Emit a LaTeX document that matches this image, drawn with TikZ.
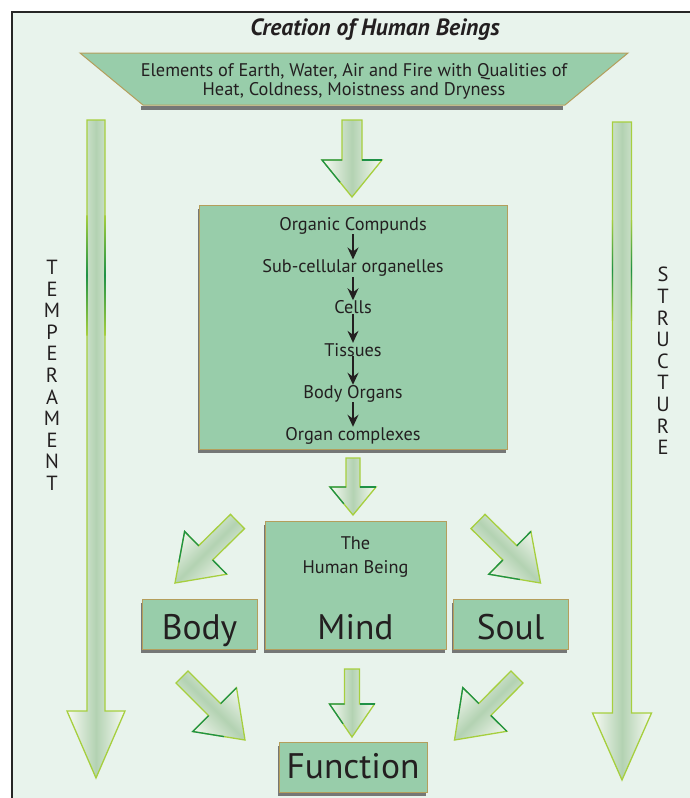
\documentclass[tikz,border=0pt]{standalone}
\usepackage{fontspec}
\setmainfont{PT Sans}
\usetikzlibrary{calc,shadows,arrows.meta}
\definecolor{bgc}{HTML}{E8F3EC}
\definecolor{boxfill}{HTML}{98CDAA}
\definecolor{boxline}{HTML}{B49E5C}
\definecolor{lgreen}{HTML}{A6CF3E}
\definecolor{dgreen}{HTML}{1F9146}
\definecolor{arrmid}{HTML}{B3D2B2}
\definecolor{arredge}{HTML}{F7FAF4}
\definecolor{txtc}{HTML}{231F20}
\tikzset{
  box/.style={draw=boxline, line width=1pt, fill=boxfill, inner sep=0pt,
    drop shadow={shadow xshift=-1.5pt, shadow yshift=-3.5pt, fill=black!65, opacity=0.8}},
  fatarrowstyle/.style={draw=lgreen, line width=1.3pt, line join=miter,
    top color=arredge, bottom color=arredge, middle color=arrmid},
  darkedge/.style={draw=dgreen, line width=1.3pt, line join=miter},
  txt/.style={inner sep=0pt, anchor=base, text=txtc, font=\fontsize{18.3}{22}\selectfont},
  bigtxt/.style={inner sep=0pt, anchor=base, text=txtc, font=\fontsize{35.5}{40}\selectfont},
  lettercol/.style={inner sep=0pt, anchor=north, align=center, text=txtc, font=\fontsize{20.5}{21.6}\selectfont},
  smallarr/.style={-{Stealth[length=12pt,width=11pt,inset=4pt]}, line width=1.3pt, draw=txtc},
}
% #1 name, #2 tail, #3 tip, #4 shaft half width, #5 head half width, #6 head length, #7 shading angle
\newcommand{\fatarrow}[7]{%
  \coordinate (#1-s) at #2;
  \coordinate (#1-t) at #3;
  \coordinate (#1-h) at ($(#1-t)!#6!(#1-s)$);
  \coordinate (#1-a) at ($(#1-s)!#4!90:(#1-t)$);
  \coordinate (#1-b) at ($(#1-h)!#4!-90:(#1-s)$);
  \coordinate (#1-c) at ($(#1-h)!#5!-90:(#1-s)$);
  \coordinate (#1-d) at ($(#1-h)!#5!90:(#1-s)$);
  \coordinate (#1-e) at ($(#1-h)!#4!90:(#1-s)$);
  \coordinate (#1-f) at ($(#1-s)!#4!-90:(#1-t)$);
  \path[fatarrowstyle, shading angle=#7] (#1-a) -- (#1-b) -- (#1-c) -- (#1-t) -- (#1-d) -- (#1-e) -- (#1-f) -- cycle;
}
\newcommand{\darkhead}[1]{%
  \draw[darkedge] (#1-e) -- (#1-d) -- ($(#1-d)!0.6!(#1-t)$);
  \draw[darkedge] (#1-b) -- (#1-c);
}
\begin{document}
\begin{tikzpicture}[x=1pt, y=-1pt]
\useasboundingbox (0,0) rectangle (690,798);
% background and frame
\fill[white] (0,0) rectangle (690,798);
\fill[bgc] (12,12) rectangle (690,798);
\draw[line width=2.5pt, black!85] (12,798) -- (12,12) -- (690,12);

% title
\node[inner sep=0pt, anchor=base, text=txtc, font=\fontsize{23.5}{26}\selectfont\bfseries\itshape] (title) at (375,35.5) {Creation of Human Beings};

% trapezoid with elements
\fill[black!65, opacity=0.8] (141,106) -- (563,106) -- (563,109.5) -- (141,109.5) -- cycle;
\path[draw=boxline, line width=1pt, fill=boxfill] (80,53) -- (628,53) -- (565,105) -- (143,105) -- cycle;
\node[txt] (el1) at (354,76) {Elements of Earth, Water, Air and Fire with Qualities of};
\node[txt] (el2) at (354,95.5) {Heat, Coldness, Moistness and Dryness};

% long side arrows
\fatarrow{L}{(96,120)}{(96,778)}{9pt}{29pt}{67pt}{90}
\fatarrow{R}{(622,122)}{(622,780)}{9.5pt}{29.5pt}{67pt}{90}
\shade[top color=lgreen, bottom color=lgreen, middle color=dgreen] (86.35,215) rectangle (87.65,335);
\shade[top color=lgreen, bottom color=lgreen, middle color=dgreen] (104.35,215) rectangle (105.65,335);
\shade[top color=lgreen, bottom color=lgreen, middle color=dgreen] (611.85,220) rectangle (613.15,320);
\shade[top color=lgreen, bottom color=lgreen, middle color=dgreen] (630.85,220) rectangle (632.15,320);
\node[lettercol] (temp) at (52,260) {T\\E\\M\\P\\E\\R\\A\\M\\E\\N\\T};
\node[lettercol] (struct) at (663,267) {S\\T\\R\\U\\C\\T\\U\\R\\E};

% arrow into organ box
\fatarrow{A1}{(352,120)}{(352,197)}{10pt}{30pt}{37pt}{90}
\darkhead{A1}

% organ box
\node[box, minimum width=308pt, minimum height=244pt] (organ) at (353,327) {};
\node[txt] (oc) at (353,230) {Organic Compunds};
\node[txt] (sco) at (353,272.7) {Sub-cellular organelles};
\node[txt] (cells) at (353,313.5) {Cells};
\node[txt] (tis) at (353,356) {Tissues};
\node[txt] (bo) at (353,398) {Body Organs};
\node[txt] (ocx) at (353,440) {Organ complexes};
\draw[smallarr] (oc.south) -- (sco.north);
\draw[smallarr] (sco.south) -- (cells.north);
\draw[smallarr] (cells.south) -- (tis.north);
\draw[smallarr] (tis.south) -- (bo.north);
\draw[smallarr] (bo.south) -- (ocx.north);

% arrow to human being
\fatarrow{A2}{(353,458)}{(353,515)}{7pt}{23pt}{28pt}{90}
\darkhead{A2}

% diagonal arrows to body / soul
\fatarrow{D1}{(237.5,521.5)}{(175,583)}{10pt}{30pt}{43pt}{45}
\darkhead{D1}
\fatarrow{D2}{(478,521.5)}{(540.5,583)}{10pt}{30pt}{43pt}{-45}
\darkhead{D2}

% body, mind, soul
\node[box, minimum width=115pt, minimum height=50pt] (body) at (199.5,624) {};
\node[box, minimum width=181pt, minimum height=128pt] (mind) at (355.5,585) {};
\node[box, minimum width=115pt, minimum height=50pt] (soul) at (510.5,624) {};
\node[bigtxt] (bodyt) at (199.5,639) {Body};
\node[bigtxt] (mindt) at (355.5,639) {Mind};
\node[bigtxt] (soult) at (510.5,639) {Soul};
\node[txt] (the) at (355.5,549) {The};
\node[txt] (hb) at (355.5,573) {Human Being};

% arrows to function
\fatarrow{B1}{(182,677)}{(245,740)}{8.5pt}{31pt}{43pt}{-45}
\darkhead{B1}
\fatarrow{B2}{(352,669)}{(352,737)}{7.5pt}{22.5pt}{33pt}{90}
\darkhead{B2}
\fatarrow{B3}{(517,677)}{(454.5,740)}{8.5pt}{31pt}{43pt}{45}
\darkhead{B3}

% function
\node[box, minimum width=148pt, minimum height=50pt] (func) at (353,767) {};
\node[bigtxt] (funct) at (353,778) {Function};
\end{tikzpicture}
\end{document}
